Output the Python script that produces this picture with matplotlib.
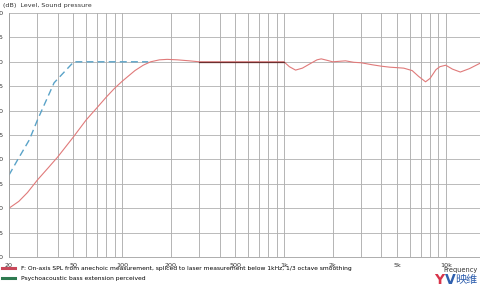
import matplotlib.pyplot as plt
from matplotlib.lines import Line2D
from matplotlib.ticker import FixedLocator, NullFormatter

# measured response (Hz, dB)
spl_freq = [20, 23, 26, 30, 35, 40, 50, 60, 70, 80, 90, 100, 120, 135, 150, 170, 190,
            220, 260, 300, 1000, 1080, 1180, 1300, 1450, 1600, 1700, 1850, 2000, 2200,
            2400, 2700, 3000, 3500, 4000, 4500, 5000, 5500, 6200, 6800, 7500, 8000,
            8700, 9200, 10000, 11000, 12300, 14000, 16500]
spl_db = [50.0, 51.4, 53.2, 55.8, 58.3, 60.5, 64.6, 68.1, 70.6, 72.8, 74.6, 76.0, 78.2,
          79.3, 80.0, 80.4, 80.5, 80.4, 80.2, 80.0, 80.0, 79.0, 78.3, 78.7, 79.6, 80.4,
          80.6, 80.3, 80.0, 80.1, 80.2, 79.9, 79.8, 79.4, 79.1, 78.9, 78.8, 78.7, 78.2,
          77.0, 75.9, 76.6, 78.4, 79.0, 79.3, 78.5, 77.9, 78.6, 79.8]

# spliced part (drawn darker)
splice_freq = [300, 1000]
splice_db = [80.0, 80.0]

# psychoacoustic bass extension
psy_freq = [20, 22.6, 26.7, 30, 38, 49, 50, 145]
psy_db = [56.8, 59.9, 64.0, 68.1, 75.7, 79.6, 80.0, 80.0]

y_ticks = [40, 45, 50, 55, 60, 65, 70, 75, 80, 85, 90]
x_ticks = [20, 50, 100, 200, 500, 1000, 2000, 5000, 10000]
x_labels = ["20", "50", "100", "200", "500", "1k", "2k", "5k", "10k"]

grid_freqs = [m * d for d in (10, 100, 1000, 10000) for m in range(1, 10)]
grid_freqs = [f for f in grid_freqs if 20 <= f <= 16500]

fig = plt.figure(figsize=(4.8, 2.96), dpi=100)
ax = fig.add_axes([9 / 480, 39 / 296, 1 - 9 / 480 + 0.002, 244 / 296])

ax.plot(spl_freq, spl_db, color="#e07a7a", lw=0.8)
ax.plot(splice_freq, splice_db, color="#6b2f2f", lw=0.9)
ax.plot(psy_freq, psy_db, color="#5aa3c8", lw=1.0, ls=(0, (5, 3)))

ax.set_xscale("log")
ax.set_xlim(20, 16500)
ax.set_ylim(40, 90)
ax.set_yticks(y_ticks)
ax.xaxis.set_major_locator(FixedLocator(x_ticks))
ax.set_xticklabels(x_labels)
ax.xaxis.set_minor_locator(FixedLocator(grid_freqs))
ax.xaxis.set_minor_formatter(NullFormatter())
ax.tick_params(axis="both", which="both", length=0, labelsize=4.6, colors="#333333")
ax.tick_params(axis="x", pad=4)
ax.tick_params(axis="y", pad=4)
ax.grid(True, which="both", axis="x", color="#a8a8a8", lw=0.6)
ax.grid(True, which="major", axis="y", color="#b0b0b0", lw=0.6)
ax.set_axisbelow(True)
for s in ("top", "right"):
    ax.spines[s].set_visible(False)
for s in ("left", "bottom"):
    ax.spines[s].set_color("#a0a0a0")
    ax.spines[s].set_linewidth(0.6)

fig.text(3 / 480, 1 - 6 / 296, "(dB)  Level, Sound pressure", fontsize=4.6,
         color="#333333", va="center", ha="left")
fig.text(478 / 480, 1 - 270 / 296, "Frequency", fontsize=4.8, color="#333333",
         va="center", ha="right")

handles = [Line2D([], [], color="#c8485a", lw=2.2),
           Line2D([], [], color="#2e7a50", lw=2.2)]
labels = ["F: On-axis SPL from anechoic measurement, spliced to laser measurement below 1kHz, 1/3 octave smoothing",
          "Psychoacoustic bass extension perceived"]
fig.legend(handles, labels, loc="upper left", bbox_to_anchor=(2 / 480, 1 - 266 / 296),
           frameon=False, fontsize=4.3, handlelength=2.2, handletextpad=1.0,
           labelspacing=0.75, borderpad=0, borderaxespad=0)

# logo
fig.text(434 / 480, 1 - 280 / 296, "Y", fontsize=10, fontweight="bold", color="#d8344a",
         va="center", ha="left")
fig.text(445 / 480, 1 - 280 / 296, "V", fontsize=10, fontweight="bold", color="#2f5fae",
         va="center", ha="left")
fig.text(477 / 480, 1 - 280 / 296, "映维", fontsize=8, color="#2f5fae", va="center",
         ha="right", family=["Noto Sans CJK SC", "DejaVu Sans"])

fig.savefig("out.png", dpi=100)
